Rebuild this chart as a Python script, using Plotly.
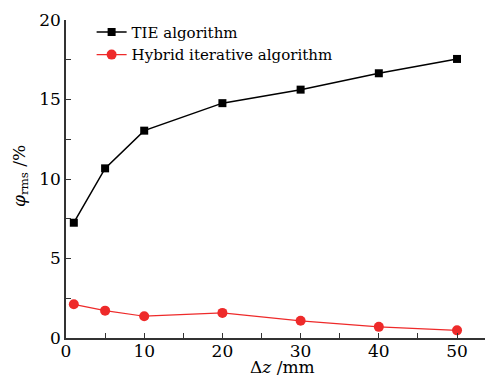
import plotly.graph_objects as go

dz = [1, 5, 10, 20, 30, 40, 50]
tie = [7.25, 10.67, 13.04, 14.77, 15.62, 16.65, 17.55]
hybrid = [2.12, 1.72, 1.37, 1.58, 1.08, 0.7, 0.48]

FONT = "DejaVu Serif"

fig = go.Figure()
fig.add_trace(go.Scatter(x=dz, y=tie, mode="lines+markers", name="TIE algorithm",
                         line=dict(color="black", width=1.5),
                         marker=dict(symbol="square", size=8, color="black")))
fig.add_trace(go.Scatter(x=dz, y=hybrid, mode="lines+markers", name="Hybrid iterative algorithm",
                         line=dict(color="#ee2a2a", width=1.2),
                         marker=dict(symbol="circle", size=10, color="#ee2a2a")))

fig.update_layout(
    width=485, height=372,
    margin=dict(l=58, r=0, t=12, b=42),
    paper_bgcolor="white", plot_bgcolor="white",
    font=dict(family=FONT, size=17, color="black"),
    showlegend=True,
    legend=dict(x=0.06, y=1.013, xanchor="left", yanchor="top",
                font=dict(family=FONT, size=15), bgcolor="rgba(0,0,0,0)",
                tracegroupgap=0, itemwidth=30),
    annotations=[
        dict(text="Δ<i>z</i> /mm", xref="paper", yref="paper", x=0.506, y=-0.092,
             xanchor="center", yanchor="middle", showarrow=False, font=dict(size=17)),
        dict(text="<i>φ</i><sub>rms</sub> /%", xref="paper", yref="paper", x=-0.108, y=0.509,
             xanchor="center", yanchor="middle", showarrow=False, textangle=-90,
             font=dict(size=17)),
    ],
)
fig.update_xaxes(range=[0, 54.6], dtick=10, tick0=0, showgrid=False, zeroline=False,
                 automargin=False, ticklabelstandoff=-3,
                 showline=True, linecolor="#333", linewidth=1.5,
                 ticks="inside", ticklen=5, tickcolor="#333",
                 minor=dict(dtick=5, ticks="inside", ticklen=5, tickcolor="#333", showgrid=False))
fig.update_yaxes(range=[0, 20], dtick=5, tick0=0, showgrid=False, zeroline=False,
                 automargin=False,
                 showline=True, linecolor="#333", linewidth=1.5,
                 ticks="inside", ticklen=5, tickcolor="#333",
                 minor=dict(dtick=2.5, ticks="inside", ticklen=5, tickcolor="#333", showgrid=False))

fig.write_html("out.html")
